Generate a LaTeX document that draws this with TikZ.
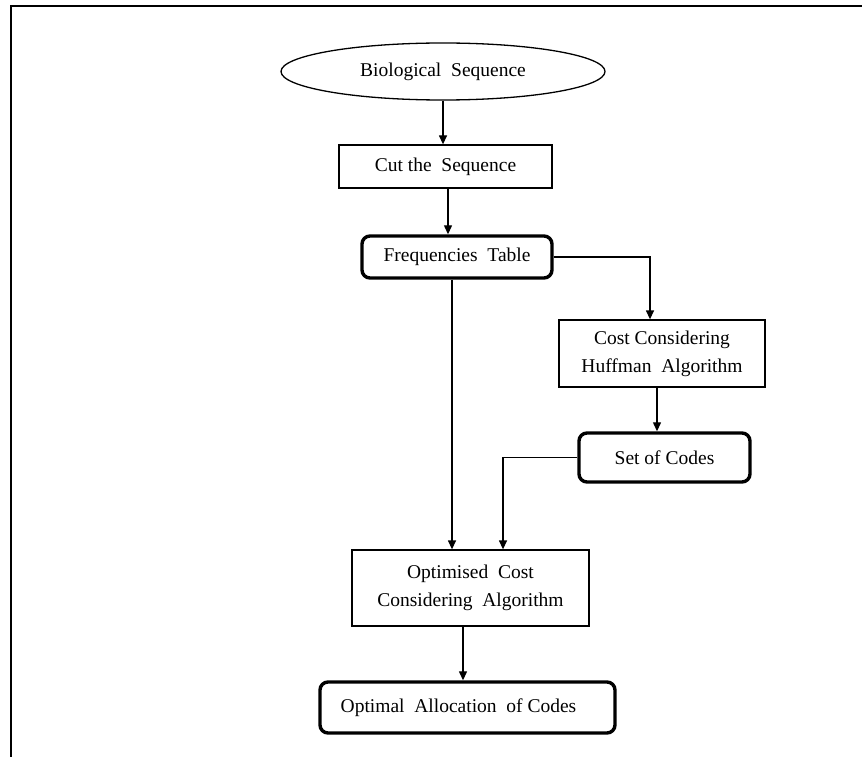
\documentclass[tikz,border=0pt]{standalone}
\usepackage{fontspec}
\setmainfont{Liberation Serif}
\usetikzlibrary{shapes.geometric,arrows.meta}
\begin{document}
\begin{tikzpicture}[x=1pt,y=-1pt,
  every node/.style={font=\fontsize{19.5}{28}\selectfont, inner sep=0pt, align=center},
  plainbox/.style={draw, line width=1.3pt, rectangle},
  boldbox/.style={draw, line width=3.4pt, rectangle, rounded corners=8pt},
  arr/.style={line width=1.3pt, -{Triangle[length=9pt,width=8pt]}},
  frame/.style={line width=2pt}]
\useasboundingbox (0,0) rectangle (862,757);
% frame
\coordinate (ftr) at (862,6);
\coordinate (ftl) at (11,6);
\coordinate (fbl) at (11,757);
\draw[frame] (ftr) -- (ftl) -- (fbl);
% nodes
\node[draw, ellipse, line width=1.3pt, minimum width=324pt, minimum height=57pt] (bio) at (443,71.5) {Biological\ \ Sequence};
\node[plainbox, minimum width=213pt, minimum height=43pt] (cut) at (445.5,166.5) {Cut the\ \ Sequence};
\node[boldbox, minimum width=190pt, minimum height=42pt] (freq) at (457,257) {Frequencies\ \ Table};
\node[plainbox, minimum width=206pt, minimum height=67pt] (cost) at (662,353.5) {Cost Considering\\Huffman\ \ Algorithm};
\node[boldbox, minimum width=171pt, minimum height=49pt] (set) at (664.5,457.5) {Set of Codes};
\node[plainbox, minimum width=237pt, minimum height=76pt] (opt) at (470.5,588) {Optimised\ \ Cost\\Considering\ \ Algorithm};
\node[boldbox, minimum width=295pt, minimum height=51pt] (fin) at (467.5,707.5) {Optimal\ \ Allocation\ \ of Codes\hspace{18pt}};
% connector anchors
\coordinate (c1) at ([xshift=2.5pt]cut.south);
\coordinate (c2) at ([xshift=-12pt]cost.north);
\coordinate (c3) at ([xshift=-5pt]cost.south);
\coordinate (c4) at ([xshift=32.5pt]opt.north);
\coordinate (c5) at ([xshift=-5pt]freq.south);
\coordinate (c6) at ([xshift=-7.5pt]opt.south);
% connectors
\draw[arr] (bio.south) -- (bio.south |- cut.north);
\draw[arr] (c1) -- (c1 |- freq.north);
\draw[arr] (freq.east) -| (c2);
\draw[arr] (c3) -- (c3 |- set.north);
\draw[arr] (set.west) -| (c4);
\draw[arr] (c5) -- (c5 |- opt.north);
\draw[arr] (c6) -- (c6 |- fin.north);
\end{tikzpicture}
\end{document}
